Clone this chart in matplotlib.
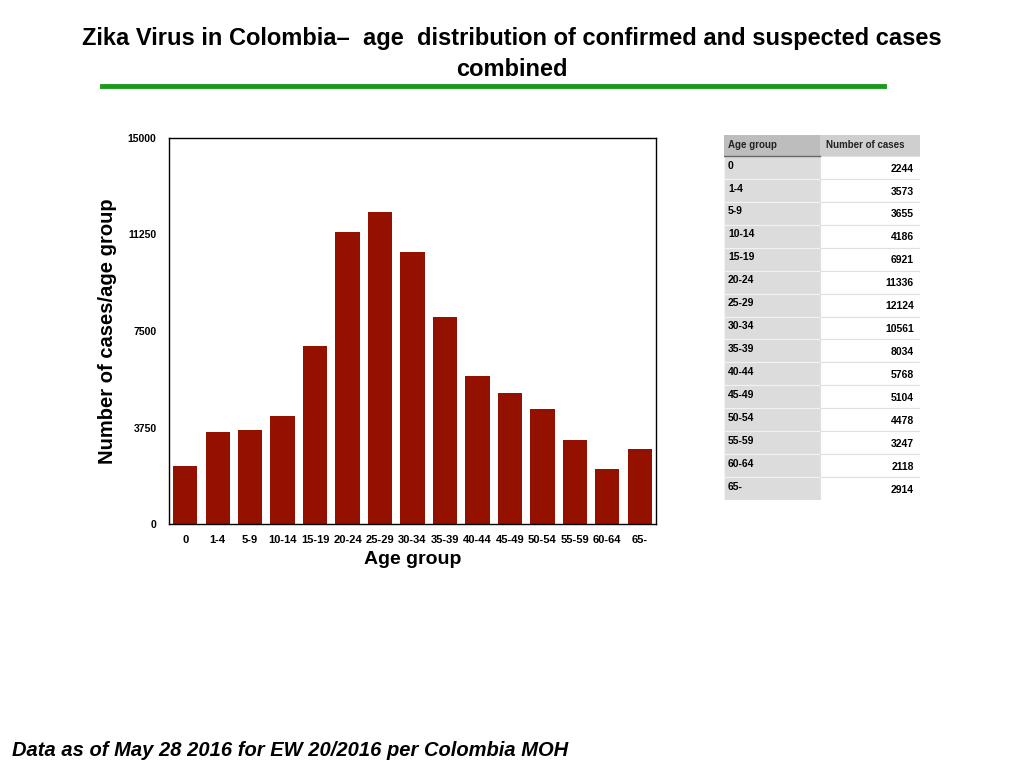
import numpy as np
import matplotlib.pyplot as plt
from matplotlib.patches import Rectangle
from matplotlib.lines import Line2D

plt.rcParams['font.family'] = ['Liberation Sans', 'DejaVu Sans']

# data
age_groups = ["0", "1-4", "5-9", "10-14", "15-19", "20-24", "25-29", "30-34",
              "35-39", "40-44", "45-49", "50-54", "55-59", "60-64", "65-"]
cases = [2244, 3573, 3655, 4186, 6921, 11336, 12124, 10561,
         8034, 5768, 5104, 4478, 3247, 2118, 2914]
y_ticks = [0, 3750, 7500, 11250, 15000]

bar_color = "#941100"

fig = plt.figure(figsize=(10.24, 7.68), dpi=100)

# title + green rule
fig.text(0.5, 1-38/768, "Zika Virus in Colombia\u2013  age  distribution of confirmed and suspected cases",
         ha="center", va="center", fontsize=17, fontweight="bold")
fig.text(0.5, 1-70/768, "combined", ha="center", va="center", fontsize=17, fontweight="bold")
fig.add_artist(Line2D([102/1024, 884/1024], [1-86/768, 1-86/768], color="#1a9a1a", lw=3.5))

# bar chart
ax = fig.add_axes([169/1024, 1-524/768, 487/1024, 386/768])
x = np.arange(len(age_groups))
ax.bar(x, cases, width=0.75, color=bar_color)
ax.set_xlim(-0.5, len(age_groups) - 0.5)
ax.set_ylim(0, 15000)
ax.set_yticks(y_ticks)
ax.set_yticklabels([str(v) for v in y_ticks], fontsize=7.5, fontweight="bold")
ax.set_xticks(x)
ax.set_xticklabels(age_groups, fontsize=8, fontweight="bold")
ax.tick_params(length=0, pad=8)
ax.tick_params(axis="y", pad=9)
for s in ax.spines.values():
    s.set_linewidth(1)
ax.set_xlabel("Age group", fontsize=14, fontweight="bold", labelpad=4)
ax.set_ylabel("Number of cases/age group", fontsize=14.5, fontweight="bold", labelpad=8)

# table at right
tx = fig.add_axes([724/1024, 1-500/768, 196/1024, 365/768])
tx.set_xlim(0, 196)
tx.set_ylim(365, 0)
tx.axis("off")
hdr_h = 21
row_h = (365 - hdr_h) / len(age_groups)
col_w = 96
tx.add_patch(Rectangle((0, 0), col_w, hdr_h, color="#bdbdbd", lw=0))
tx.add_patch(Rectangle((col_w, 0), 196 - col_w, hdr_h, color="#cfcfcf", lw=0))
tx.plot([0, col_w], [hdr_h, hdr_h], color="#666666", lw=1)
tx.text(4, hdr_h / 2, "Age group", fontsize=7, fontweight="bold", color="#222222", va="center", ha="left")
tx.text(col_w + 6, hdr_h / 2, "Number of cases", fontsize=7, fontweight="bold", color="#222222",
        va="center", ha="left")
for i, (g, c) in enumerate(zip(age_groups, cases)):
    y0 = hdr_h + i * row_h
    tx.add_patch(Rectangle((0, y0), col_w, row_h, facecolor="#dcdcdc", edgecolor="#f2f2f2", lw=0.8))
    tx.add_patch(Rectangle((col_w, y0), 196 - col_w, row_h, facecolor="white", edgecolor="#e0e0e0", lw=0.8))
    tx.text(4, y0 + row_h * 0.42, g, fontsize=7.5, fontweight="bold", va="center", ha="left")
    tx.text(190, y0 + row_h * 0.55, str(c), fontsize=7.5, fontweight="bold", va="center", ha="right")

# footer
fig.text(12/1024, 1-750/768, "Data as of May 28 2016 for EW 20/2016 per Colombia MOH",
         fontsize=14.5, fontweight="bold", fontstyle="italic", va="center", ha="left")

fig.savefig("out.png", dpi=100)
